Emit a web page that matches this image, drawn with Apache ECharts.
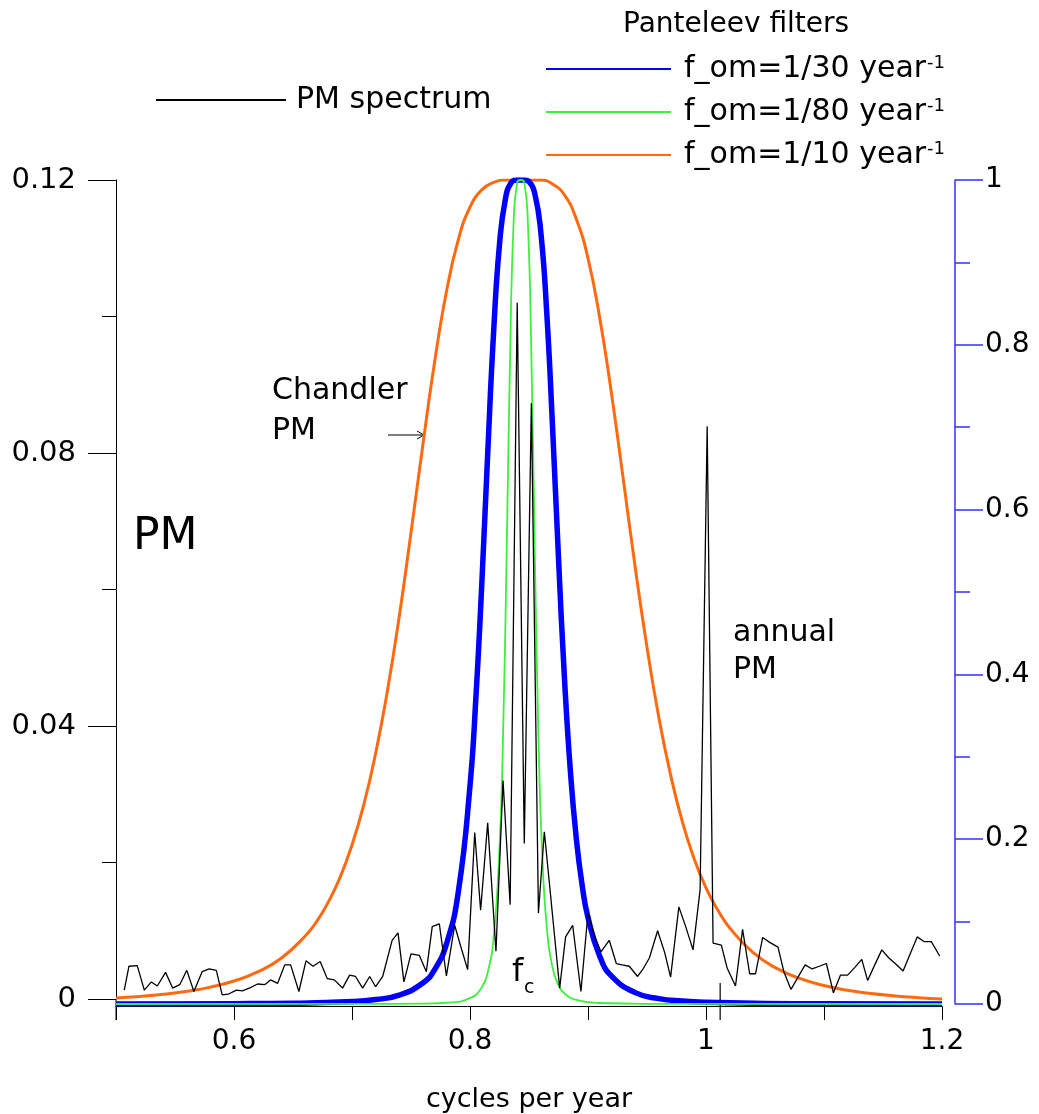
<!DOCTYPE html>
<html>
<head>
<meta charset="utf-8">
<script src="https://cdn.jsdelivr.net/npm/echarts@6/dist/echarts.min.js"></script>
<style>
  html, body { margin: 0; padding: 0; background: #fff; }
  #chart { width: 1039px; height: 1114px; }
</style>
</head>
<body>
<div id="chart"></div>
<script>
// PM spectrum (left axis)
var pmFreq = [0.507,0.511,0.518,0.524,0.530,0.535,0.542,0.548,0.554,0.560,0.566,0.573,0.579,0.585,0.590,0.595,
  0.602,0.607,0.613,0.620,0.626,0.631,0.637,0.643,0.648,0.655,0.661,0.667,0.673,0.679,0.685,0.692,0.698,
  0.703,0.709,0.715,0.720,0.726,0.734,0.739,0.744,0.750,0.757,0.763,0.768,0.774,0.780,0.787,0.792,0.798,
  0.804,0.809,0.815,0.822,0.828,0.834,0.840,0.846,0.852,0.858,0.863,0.876,0.881,0.887,0.894,0.900,
  0.905,0.911,0.918,0.924,0.929,0.935,0.942,0.947,0.952,0.959,0.965,0.970,0.977,0.983,0.989,0.995,
  1.001,1.006,1.013,1.018,1.025,1.031,1.037,1.042,1.048,1.054,1.061,1.066,1.072,1.078,1.084,1.090,
  1.096,1.102,1.108,1.114,1.120,1.126,1.132,1.137,1.143,1.149,1.155,1.161,1.167,1.173,1.179,1.185,
  1.191,1.198];
var pmPower = [0.0013,0.0048,0.0049,0.0013,0.0025,0.0019,0.0039,0.0016,0.0021,0.0042,0.0011,0.0040,0.0044,0.0042,0.0006,0.0007,
  0.0013,0.0012,0.0016,0.0022,0.0021,0.0028,0.0023,0.0050,0.0050,0.0011,0.0056,0.0048,0.0055,0.0030,0.0028,0.0016,0.0035,
  0.0033,0.0016,0.0033,0.0018,0.0033,0.0086,0.0097,0.0025,0.0066,0.0064,0.0040,0.0106,0.0110,0.0034,0.0108,0.0078,0.0043,
  0.0244,0.0130,0.0258,0.0070,0.0320,0.0138,0.1020,0.0228,0.0873,0.0126,0.0245,0.0016,0.0091,0.0108,0.0011,0.0126,
  0.0095,0.0069,0.0086,0.0052,0.0050,0.0048,0.0033,0.0045,0.0060,0.0100,0.0068,0.0032,0.0135,0.0105,0.0072,0.0160,
  0.0839,0.0082,0.0079,0.0045,0.0019,0.0102,0.0037,0.0037,0.0090,0.0083,0.0076,0.0040,0.0014,0.0032,0.0050,0.0044,
  0.0048,0.0052,0.0009,0.0035,0.0035,0.0046,0.0058,0.0027,0.0050,0.0072,0.0060,0.0051,0.0041,0.0066,0.0091,0.0084,
  0.0084,0.0063];

// Panteleev filter gains (right axis)
var orangeFreq = [0.50,0.52,0.54,0.56,0.58,0.60,0.62,0.64,0.66,0.67,0.68,0.69,0.70,0.71,0.72,0.73,0.74,0.75,0.76,0.77,
  0.78,0.79,0.80,0.81,0.82,0.83,0.84,0.85,0.86,0.87,0.88,0.89,0.90,0.91,0.92,0.93,0.94,0.95,0.96,0.97,0.98,0.99,
  1.00,1.01,1.02,1.04,1.06,1.08,1.10,1.12,1.14,1.16,1.18,1.20];
var orangeGain = [0.0072,0.0091,0.0117,0.0154,0.0205,0.0279,0.0389,0.0556,0.082,0.100,0.124,0.154,0.193,0.242,0.304,0.380,
  0.470,0.572,0.678,0.779,0.864,0.927,0.967,0.988,0.997,1.0,1.0,1.0,1.0,0.995,0.982,0.953,0.905,0.832,0.740,0.636,0.530,
  0.433,0.348,0.278,0.221,0.176,0.141,0.114,0.0925,0.0623,0.0432,0.0307,0.0224,0.0167,0.0127,0.0098,0.0077,0.0061];

var blueFreq = [0.50,0.60,0.65,0.70,0.72,0.74,0.76,0.77,0.78,0.79,0.80,0.805,0.81,0.815,0.82,0.825,0.83,0.835,0.84,0.843,
  0.846,0.85,0.855,0.86,0.865,0.87,0.875,0.88,0.885,0.89,0.895,0.90,0.91,0.92,0.94,0.96,0.98,1.00,1.05,1.10,1.20];
var blueGain = [0.0001,0.0004,0.0009,0.0029,0.0054,0.0108,0.0254,0.0417,0.0727,0.135,0.265,0.372,0.510,0.668,0.815,0.922,
  0.977,0.997,1.0,1.0,1.0,0.998,0.983,0.937,0.840,0.699,0.541,0.397,0.284,0.202,0.1445,0.105,0.0577,0.0339,0.0138,0.0065,
  0.0035,0.0020,0.0007,0.0003,0.0001];

var greenFreq = [0.50,0.70,0.76,0.78,0.80,0.81,0.815,0.82,0.825,0.828,0.831,0.834,0.837,0.840,0.843,0.846,0.849,0.852,
  0.855,0.858,0.861,0.865,0.87,0.875,0.88,0.89,0.91,0.95,1.20];
var greenGain = [0,0.0001,0.0005,0.0015,0.0071,0.0202,0.0382,0.0803,0.189,0.325,0.541,0.788,0.950,0.997,1.0,0.997,0.950,
  0.788,0.541,0.325,0.189,0.0944,0.0439,0.0228,0.0129,0.005,0.0012,0.0002,0];

var xLabels = [0.6, 0.8, 1, 1.2];
var annualMarker = 1.012;

var FONT = '"DejaVu Sans", Arial, sans-serif';

function pairs(xs, ys) {
  return xs.map(function (x, i) { return [x, ys[i]]; });
}

var chart = echarts.init(document.getElementById('chart'), null, { renderer: 'canvas' });

var option = {
  animation: false,
  backgroundColor: '#fff',
  textStyle: { fontFamily: FONT, color: '#000' },
  title: {
    text: 'Panteleev filters',
    left: 618, top: 6,
    textStyle: { fontSize: 28, fontWeight: 'normal', fontFamily: FONT, color: '#000' }
  },
  legend: [
    {
      data: ['PM spectrum'],
      left: 150, top: 80,
      itemWidth: 130, itemHeight: 30,
      selectedMode: false,
      itemStyle: { opacity: 0 },
      textStyle: { fontSize: 30, fontFamily: FONT, color: '#000', padding: [0, 0, 0, 5] }
    },
    {
      data: ['f_om=1/30 year-1', 'f_om=1/80 year-1', 'f_om=1/10 year-1'],
      orient: 'vertical',
      left: 540, top: 47,
      itemWidth: 125, itemHeight: 30, itemGap: 11,
      selectedMode: false,
      itemStyle: { opacity: 0 },
      formatter: function (name) {
        return '{n|' + name.replace(/-1$/, '') + '}{s|-1}';
      },
      textStyle: {
        fontFamily: FONT, color: '#000', padding: [0, 0, 0, 8],
        rich: {
          n: { fontSize: 30, fontFamily: FONT, color: '#000', lineHeight: 34 },
          s: { fontSize: 18, fontFamily: FONT, color: '#000', verticalAlign: 'top', lineHeight: 34, padding: [2, 0, 0, 1] }
        }
      }
    }
  ],
  grid: [
    { left: 116, right: 97, top: 180, bottom: 115, outerBoundsMode: 'none' },
    { left: 116, right: 97, top: 180, bottom: 110, outerBoundsMode: 'none' }
  ],
  xAxis: [
    {
      type: 'value', gridIndex: 0, min: 0.5, max: 1.2, interval: 0.1,
      offset: 7,
      name: 'cycles per year', nameLocation: 'middle', nameGap: 80,
      nameTextStyle: { fontSize: 27, fontFamily: FONT, color: '#000' },
      axisLine: { onZero: false, lineStyle: { color: '#000', width: 1 } },
      axisTick: { length: 14, lineStyle: { color: '#000' } },
      splitLine: { show: false },
      axisLabel: {
        fontSize: 28, fontFamily: FONT, color: '#000', margin: 22,
        formatter: function (v) {
          var r = Math.round(v * 10) / 10;
          return xLabels.indexOf(r) >= 0 ? String(r) : '';
        }
      }
    },
    {
      type: 'value', gridIndex: 1, min: 0.5, max: 1.2, show: false
    }
  ],
  yAxis: [
    {
      type: 'value', gridIndex: 0, position: 'left', min: 0, max: 0.12, interval: 0.04,
      axisLine: { show: true, onZero: false, lineStyle: { color: '#000', width: 1 } },
      axisTick: { show: true, length: 28, lineStyle: { color: '#000' } },
      minorTick: { show: true, splitNumber: 2, length: 14, lineStyle: { color: '#000' } },
      splitLine: { show: false },
      axisLabel: {
        fontSize: 29, fontFamily: FONT, color: '#000', margin: 40,
        formatter: function (v) { return String(Math.round(v * 100) / 100); }
      }
    },
    {
      type: 'value', gridIndex: 1, position: 'right', offset: 13, min: 0, max: 1, interval: 0.2,
      axisLine: { show: true, onZero: false, lineStyle: { color: '#3030ff', width: 1.5 } },
      axisTick: { show: true, length: 28, lineStyle: { color: '#3030ff', width: 1.5 } },
      minorTick: { show: true, splitNumber: 2, length: 15, lineStyle: { color: '#3030ff', width: 1.5 } },
      splitLine: { show: false },
      axisLabel: {
        fontSize: 28, fontFamily: FONT, color: '#000', margin: 30,
        formatter: function (v) { return String(Math.round(v * 10) / 10); }
      }
    }
  ],
  series: [
    {
      name: 'f_om=1/10 year-1', type: 'line', xAxisIndex: 1, yAxisIndex: 1,
      data: pairs(orangeFreq, orangeGain), symbol: 'none', smooth: 0.5,
      color: '#ff6a10', lineStyle: { color: '#ff6a10', width: 3 }, z: 2
    },
    {
      name: 'f_om=1/30 year-1', type: 'line', xAxisIndex: 1, yAxisIndex: 1,
      data: pairs(blueFreq, blueGain), symbol: 'none', smooth: 0.5,
      color: '#0000ff', lineStyle: { color: '#0000ff', width: 5.5, join: 'round' }, z: 3
    },
    {
      name: 'f_om=1/80 year-1', type: 'line', xAxisIndex: 1, yAxisIndex: 1,
      data: pairs(greenFreq, greenGain), symbol: 'none', smooth: 0.5,
      color: '#3cf03c', lineStyle: { color: '#3cf03c', width: 1.8 }, z: 4
    },
    {
      name: 'PM spectrum', type: 'line', xAxisIndex: 0, yAxisIndex: 0,
      data: pairs(pmFreq, pmPower), symbol: 'none',
      color: '#000', lineStyle: { color: '#000', width: 1.3 }, z: 5
    }
  ]
};

chart.setOption(option);

// annotations
var origin = chart.convertToPixel({ gridIndex: 0 }, [0.5, 0]);
var marker = chart.convertToPixel({ gridIndex: 0 }, [annualMarker, 0]);
chart.setOption({
  graphic: [
    { type: 'line', shape: { x1: origin[0], y1: origin[1], x2: origin[0], y2: origin[1] + 21 },
      style: { stroke: '#000', lineWidth: 1 } },
    { type: 'line', shape: { x1: marker[0], y1: marker[1] - 16, x2: marker[0], y2: marker[1] + 21 },
      style: { stroke: '#000', lineWidth: 1.2 } },
    { type: 'text', left: 272, top: 371, style: { text: 'Chandler\nPM', font: '30px ' + FONT, fill: '#000', lineHeight: 40 } },
    { type: 'line', shape: { x1: 388, y1: 435, x2: 424, y2: 435 }, style: { stroke: '#000', lineWidth: 1 } },
    { type: 'polyline', shape: { points: [[417, 431], [424, 435], [417, 439]] }, style: { stroke: '#000', lineWidth: 1, fill: null } },
    { type: 'text', left: 133, top: 516, style: { text: 'PM', font: '44px ' + FONT, fill: '#000' } },
    { type: 'text', left: 733, top: 615, style: { text: 'annual\nPM', font: '30px ' + FONT, fill: '#000', lineHeight: 37 } },
    { type: 'text', left: 512, top: 957, style: { text: 'f', font: '32px ' + FONT, fill: '#000' } },
    { type: 'text', left: 524, top: 979, style: { text: 'c', font: '19px ' + FONT, fill: '#000' } }
  ]
});
</script>
</body>
</html>
